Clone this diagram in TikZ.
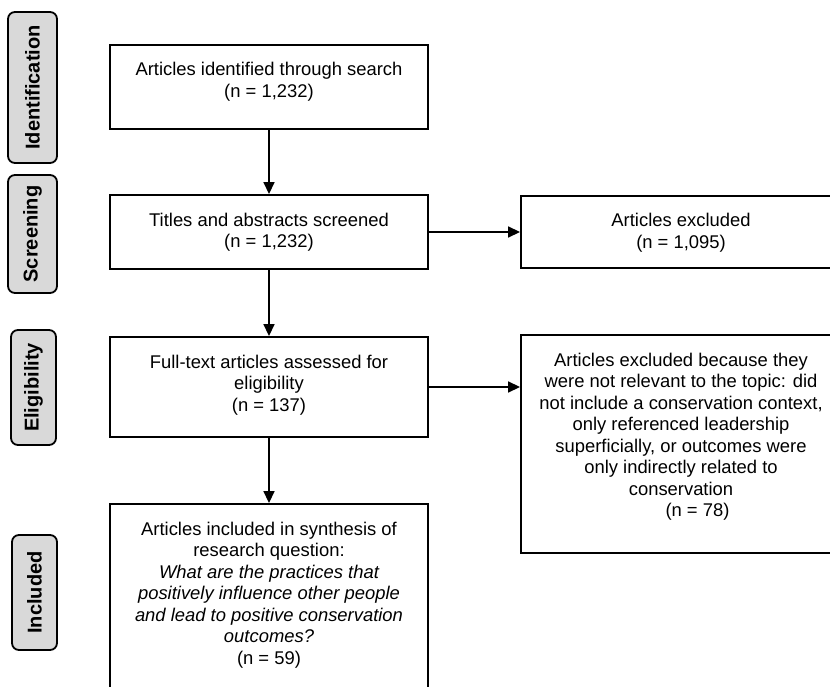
\documentclass[tikz,border=0pt]{standalone}
\usepackage{fontspec}
\setmainfont{Liberation Sans}
\usetikzlibrary{arrows.meta}
\tikzset{
  flowbox/.style={draw=black, line width=1.9pt, fill=white, inner sep=0pt,
    font=\fontsize{18.4}{21.5}\selectfont},
  stagebox/.style={draw=black, line width=1.8pt, fill=stagegray, rounded corners=7pt,
    rotate=90, inner sep=0pt, font=\fontsize{20}{24}\selectfont\bfseries},
  flowarrow/.style={line width=1.7pt, -{Triangle[length=12pt,width=11pt]}}
}
\definecolor{stagegray}{RGB}{217,217,217}
\newcommand{\boxtext}[3]{\parbox[c][#2pt][t]{#1pt}{\centering\rule{0pt}{31pt}#3}}
\begin{document}
\begin{tikzpicture}[x=1pt,y=-1pt]
\useasboundingbox (0,0) rectangle (830,687);
\clip (0,0) rectangle (830,687);
\fill[white] (0,0) rectangle (830,687);

% stage labels
\node[stagebox, minimum width=151pt, minimum height=49pt] (sid) at (32.5,87.5) {Identification};
\node[stagebox, minimum width=118pt, minimum height=49pt] (ssc) at (32.5,234) {Screening};
\node[stagebox, minimum width=115pt, minimum height=45pt] (sel) at (33.5,387.5) {Eligibility};
\node[stagebox, minimum width=115pt, minimum height=45pt] (sin) at (34.5,592.5) {Included};

% main boxes
\node[flowbox] (b1) at (269,87) {\boxtext{318}{84}{Articles identified through search\\(n = 1,232)}};
\node[flowbox] (b2) at (269,232) {\boxtext{318}{74}{Titles and abstracts screened\\(n = 1,232)}};
\node[flowbox] (b3) at (269,387) {\boxtext{318}{100}{Full-text articles assessed for\\eligibility\\(n = 137)}};
\node[flowbox] (b4) at (269,607) {\boxtext{318}{206}{Articles included in synthesis of\\research question:\\{\itshape What are the practices that\\positively influence other people\\and lead to positive conservation\\outcomes?}\\(n = 59)}};

% exclusion boxes
\node[flowbox] (e1) at (681,232) {\boxtext{320}{72}{Articles excluded\\(n = 1,095)}};
\node[flowbox] (e2) at (681,444) {\boxtext{320}{218}{Articles excluded because they\\were not relevant to the topic: did\\not include a conservation context,\\only referenced leadership\\superficially, or outcomes were\\only indirectly related to\\conservation\\\hspace*{33pt}(n = 78)}};

% connectors
\draw[flowarrow] (b1.south) -- (b2.north);
\draw[flowarrow] (b2.south) -- (b3.north);
\draw[flowarrow] (b3.south) -- (b4.north);
\draw[flowarrow] (b2.east) -- (e1.west);
\draw[flowarrow] (b3.east) -- (b3.east -| e2.west);
\end{tikzpicture}
\end{document}
